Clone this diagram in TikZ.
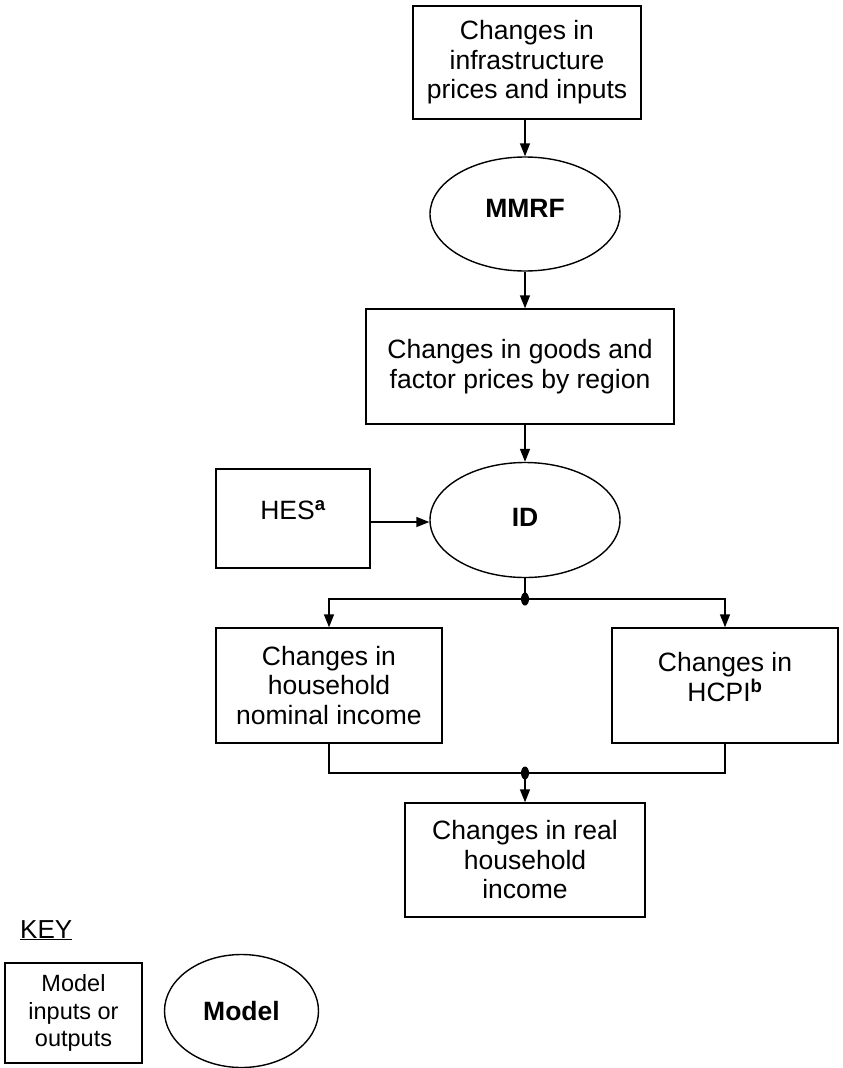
\documentclass[tikz,border=0pt]{standalone}
\usepackage{fontspec}
\setmainfont{Liberation Sans}
\usetikzlibrary{shapes.geometric,arrows.meta}
\tikzset{
  box/.style={draw,line width=1.4pt,inner sep=0pt,align=center,font=\fontsize{26.5}{29.5}\selectfont},
  model/.style={draw,ellipse,line width=1.4pt,inner sep=0pt,font=\fontsize{26.5}{29.5}\selectfont\bfseries},
  txt/.style={inner sep=0pt,align=center,font=\fontsize{26.5}{29.5}\selectfont},
  conn/.style={line width=1.4pt},
  arr/.style={conn,-{Triangle[length=13pt,width=10pt]}},
  jdot/.style={fill=black,ellipse,inner sep=0pt,minimum width=8pt,minimum height=13pt}
}
\begin{document}
\begin{tikzpicture}[x=1pt,y=-1pt]
\path[use as bounding box,fill=white] (0,0) rectangle (843,1068);

\node[box,minimum width=228,minimum height=113] (b1) at (527,62.5) {Changes in\\infrastructure\\prices and inputs};
\node[model,minimum width=190,minimum height=114] (mmrf) at (525,214) {};
\node[txt,font=\fontsize{26.5}{29.5}\selectfont\bfseries] (mmrft) at (525,208) {MMRF};
\node[box,minimum width=308,minimum height=115] (b2) at (520,366.5) {Changes in goods and\\factor prices by region};
\node[model,minimum width=190,minimum height=115] (id) at (525,520) {};
\node[txt,font=\fontsize{26.5}{29.5}\selectfont\bfseries] (idt) at (525,517) {ID};
\node[box,minimum width=154,minimum height=99] (hes) at (293,518.5) {};
\node[txt] (hest) at (293,510) {HES\textsuperscript{\textbf{a}}};
\coordinate (j1) at (525,599);
\node[box,minimum width=226,minimum height=115] (nom) at (329,685.5) {Changes in\\household\\nominal income};
\node[box,minimum width=226,minimum height=115] (hcpi) at (725,685.5) {};
\node[txt] (hcpit) at (725,677) {Changes in\\HCPI\textsuperscript{\textbf{b}}};
\coordinate (j2) at (525,773);
\node[box,minimum width=240,minimum height=114] (real) at (525,860) {Changes in real\\household\\income};

\node[anchor=base west,inner sep=0pt,font=\fontsize{26}{29}\selectfont] (key) at (20,938) {\underline{KEY}};
\node[box,minimum width=137,minimum height=100,font=\fontsize{23.5}{27.5}\selectfont] (kbox) at (73.5,1013) {Model\\inputs or\\outputs};
\node[model,minimum width=154,minimum height=113,font=\fontsize{26.5}{29.5}\selectfont\bfseries] (kmodel) at (241.5,1011) {Model};

\draw[arr] (b1.south -| mmrf.north) -- (mmrf.north);
\draw[arr] (mmrf.south) -- (mmrf.south |- b2.north);
\draw[arr] (id.north |- b2.south) -- (id.north);
\draw[arr] (hes.east |- 0,522) -- (id.west |- 0,522);
\draw[conn] (id.south) -- (j1);
\draw[arr] (j1) -| (nom.north);
\draw[arr] (j1) -| (hcpi.north);
\node[jdot] (d1) at (j1) {};
\draw[conn] (nom.south) |- (j2) -| (hcpi.south);
\draw[arr] (j2) -- (real.north);
\node[jdot] (d2) at (j2) {};
\end{tikzpicture}
\end{document}
